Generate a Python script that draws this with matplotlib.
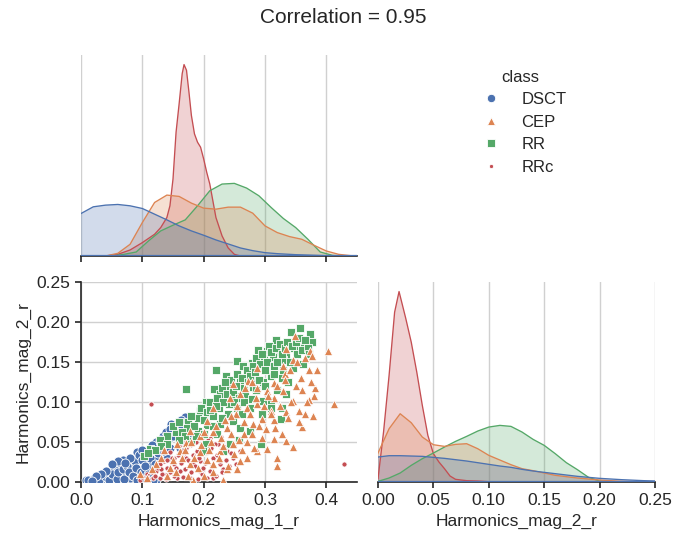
import matplotlib
matplotlib.use("Agg")
import matplotlib.pyplot as plt
from matplotlib.lines import Line2D

plt.rcParams['font.family'] = ['Liberation Sans', 'DejaVu Sans']

# ---------------- data ----------------
classes = ["DSCT", "CEP", "RR", "RRc"]
palette = ["#4C72B0", "#DD8452", "#55A868", "#C44E52"]
marker_list = ["o", "^", "s", "."]

title = "Correlation = 0.95"
xlabel1 = "Harmonics_mag_1_r"
xlabel2 = "Harmonics_mag_2_r"
legend_title = "class"

# scatter points (Harmonics_mag_1_r, Harmonics_mag_2_r)
dsct_m1 = [0.170, 0.147, 0.151, 0.133, 0.122, 0.092, 0.093, 0.107, 0.069, 0.085, 0.064, 0.055,
           0.047, 0.036, 0.028, 0.015, 0.026, 0.036, 0.047, 0.061, 0.074, 0.083, 0.102, 0.123,
           0.140, 0.161, 0.172, 0.183, 0.008, 0.042, 0.055, 0.066, 0.080, 0.091, 0.113, 0.123,
           0.134, 0.145,
           0.020, 0.030, 0.040, 0.045, 0.050, 0.058, 0.060, 0.068, 0.070, 0.075, 0.078, 0.085,
           0.088, 0.090, 0.095, 0.098, 0.100, 0.104, 0.108, 0.110, 0.112, 0.115, 0.118, 0.120,
           0.125, 0.128, 0.130, 0.135, 0.138, 0.142, 0.145, 0.150, 0.155, 0.158, 0.163, 0.165,
           0.060, 0.050, 0.040, 0.032, 0.024, 0.012, 0.018, 0.100, 0.080, 0.072, 0.118, 0.105,
           0.092]
dsct_m2 = [0.081, 0.073, 0.063, 0.057, 0.050, 0.038, 0.030, 0.025, 0.028, 0.023, 0.020, 0.015,
           0.012, 0.009, 0.006, 0.003, 0.003, 0.003, 0.003, 0.005, 0.010, 0.014, 0.016, 0.003,
           0.030, 0.043, 0.049, 0.055, 0.002, 0.005, 0.008, 0.008, 0.005, 0.009, 0.020, 0.028,
           0.039, 0.043,
           0.004, 0.002, 0.006, 0.002, 0.010, 0.004, 0.012, 0.016, 0.004, 0.020, 0.012, 0.008,
           0.026, 0.018, 0.034, 0.012, 0.028, 0.020, 0.036, 0.010, 0.030, 0.046, 0.040, 0.022,
           0.036, 0.052, 0.044, 0.048, 0.062, 0.052, 0.066, 0.058, 0.070, 0.064, 0.078, 0.068,
           0.026, 0.022, 0.014, 0.010, 0.007, 0.002, 0.001, 0.040, 0.030, 0.024, 0.003, 0.004,
           0.003]

rrc_m1 = [0.096, 0.107, 0.123, 0.129, 0.140, 0.151, 0.161, 0.172, 0.183, 0.194, 0.205, 0.189,
          0.199, 0.210, 0.216, 0.227, 0.238, 0.248, 0.167, 0.151, 0.140, 0.118, 0.178, 0.216,
          0.224, 0.194, 0.156, 0.129, 0.172, 0.199, 0.232, 0.259, 0.114, 0.429,
          0.100, 0.110, 0.115, 0.120, 0.125, 0.132, 0.135, 0.138, 0.145, 0.148, 0.152, 0.155,
          0.158, 0.163, 0.166, 0.168, 0.170, 0.175, 0.178, 0.180, 0.182, 0.186, 0.188, 0.190,
          0.192, 0.196, 0.198, 0.202, 0.204, 0.207, 0.210, 0.212, 0.214, 0.218, 0.220, 0.222,
          0.226, 0.228, 0.230, 0.234, 0.236, 0.240, 0.242, 0.245, 0.250, 0.253, 0.160, 0.145,
          0.130, 0.140, 0.185, 0.200, 0.172, 0.215]
rrc_m2 = [0.002, 0.010, 0.014, 0.005, 0.018, 0.022, 0.014, 0.030, 0.022, 0.014, 0.005, 0.039,
          0.047, 0.055, 0.030, 0.022, 0.039, 0.030, 0.035, 0.030, 0.010, 0.005, 0.005, 0.005,
          0.047, 0.026, 0.005, 0.022, 0.043, 0.018, 0.016, 0.039, 0.098, 0.023,
          0.006, 0.004, 0.012, 0.008, 0.018, 0.010, 0.026, 0.004, 0.012, 0.030, 0.008, 0.018,
          0.034, 0.024, 0.006, 0.040, 0.016, 0.028, 0.046, 0.012, 0.034, 0.020, 0.050, 0.004,
          0.030, 0.042, 0.010, 0.024, 0.036, 0.052, 0.014, 0.042, 0.020, 0.048, 0.008, 0.034,
          0.026, 0.056, 0.012, 0.044, 0.028, 0.050, 0.020, 0.036, 0.045, 0.022, 0.045, 0.038,
          0.016, 0.028, 0.058, 0.060, 0.052, 0.060]

rr_m1 = [0.357, 0.374, 0.342, 0.318, 0.289, 0.304, 0.323, 0.335, 0.348, 0.364, 0.377, 0.255,
         0.220, 0.264, 0.279, 0.298, 0.313, 0.329, 0.345, 0.362, 0.171, 0.236, 0.240, 0.259,
         0.284, 0.281, 0.297, 0.310, 0.327, 0.338, 0.268, 0.251, 0.217, 0.227, 0.204, 0.218,
         0.241, 0.255, 0.279, 0.297, 0.309, 0.326, 0.327, 0.194, 0.211, 0.190, 0.175, 0.155,
         0.173, 0.191, 0.206, 0.227, 0.248, 0.260, 0.275, 0.294, 0.221, 0.243, 0.258, 0.140,
         0.128, 0.113, 0.103, 0.180, 0.204, 0.199, 0.232,
         0.150, 0.160, 0.165, 0.180, 0.185, 0.195, 0.200, 0.205, 0.210, 0.215, 0.222, 0.225,
         0.230, 0.232, 0.238, 0.245, 0.248, 0.252, 0.255, 0.258, 0.262, 0.265, 0.270, 0.272,
         0.275, 0.280, 0.283, 0.286, 0.290, 0.292, 0.295, 0.300, 0.303, 0.306, 0.310, 0.314,
         0.318, 0.320, 0.324, 0.328, 0.332, 0.336, 0.340, 0.344, 0.350, 0.352, 0.356, 0.360,
         0.366, 0.370, 0.372, 0.240, 0.250, 0.230, 0.215, 0.200, 0.188, 0.170, 0.160, 0.140,
         0.130, 0.120, 0.110, 0.265, 0.285, 0.300, 0.315, 0.330, 0.295, 0.310, 0.335, 0.320,
         0.262, 0.275, 0.235, 0.220, 0.210]
rr_m2 = [0.193, 0.185, 0.187, 0.178, 0.165, 0.164, 0.163, 0.159, 0.167, 0.170, 0.175, 0.151,
         0.140, 0.145, 0.149, 0.155, 0.156, 0.153, 0.142, 0.147, 0.116, 0.133, 0.120, 0.125,
         0.128, 0.119, 0.125, 0.132, 0.130, 0.125, 0.109, 0.108, 0.116, 0.110, 0.100, 0.097,
         0.098, 0.093, 0.104, 0.101, 0.101, 0.079, 0.093, 0.089, 0.086, 0.080, 0.075, 0.062,
         0.068, 0.064, 0.071, 0.072, 0.076, 0.068, 0.064, 0.048, 0.060, 0.047, 0.052, 0.057,
         0.053, 0.041, 0.032, 0.051, 0.047, 0.039, 0.039,
         0.070, 0.075, 0.062, 0.082, 0.070, 0.092, 0.078, 0.088, 0.100, 0.082, 0.105, 0.092,
         0.118, 0.100, 0.110, 0.128, 0.112, 0.120, 0.135, 0.105, 0.130, 0.118, 0.140, 0.125,
         0.133, 0.145, 0.138, 0.155, 0.128, 0.148, 0.160, 0.140, 0.150, 0.170, 0.162, 0.145,
         0.168, 0.150, 0.172, 0.160, 0.168, 0.175, 0.150, 0.170, 0.175, 0.160, 0.180, 0.165,
         0.178, 0.168, 0.160, 0.085, 0.100, 0.080, 0.070, 0.060, 0.058, 0.058, 0.052, 0.047,
         0.045, 0.040, 0.036, 0.100, 0.115, 0.120, 0.135, 0.140, 0.085, 0.092, 0.110, 0.115,
         0.085, 0.092, 0.125, 0.095, 0.090]

cep_m1 = [0.402, 0.349, 0.374, 0.384, 0.413, 0.360, 0.382, 0.380, 0.371, 0.355, 0.378, 0.360,
          0.346, 0.335, 0.314, 0.319, 0.319, 0.303, 0.287, 0.270, 0.255, 0.259, 0.238, 0.216,
          0.183, 0.232, 0.314, 0.309, 0.295, 0.281, 0.265, 0.248, 0.227, 0.205, 0.194, 0.177,
          0.161, 0.156, 0.145, 0.140, 0.123, 0.115, 0.107, 0.096, 0.287, 0.270, 0.335, 0.346,
          0.330, 0.314, 0.333, 0.314, 0.303, 0.287, 0.273, 0.287, 0.330, 0.346, 0.335, 0.248,
          0.243, 0.216, 0.205, 0.238, 0.216, 0.194, 0.178, 0.172,
          0.130, 0.135, 0.150, 0.155, 0.165, 0.170, 0.175, 0.180, 0.185, 0.190, 0.195, 0.200,
          0.200, 0.208, 0.212, 0.215, 0.220, 0.225, 0.228, 0.232, 0.235, 0.240, 0.245, 0.250,
          0.252, 0.258, 0.262, 0.265, 0.270, 0.275, 0.278, 0.282, 0.285, 0.290, 0.295, 0.298,
          0.302, 0.305, 0.310, 0.316, 0.320, 0.325, 0.328, 0.332, 0.338, 0.340, 0.342, 0.350,
          0.352, 0.355, 0.358, 0.365, 0.368, 0.372, 0.375, 0.376, 0.366, 0.260, 0.268, 0.278,
          0.255, 0.245]
cep_m2 = [0.164, 0.183, 0.164, 0.140, 0.098, 0.115, 0.117, 0.108, 0.102, 0.089, 0.082, 0.069,
          0.044, 0.051, 0.054, 0.030, 0.020, 0.041, 0.039, 0.030, 0.016, 0.026, 0.016, 0.013,
          0.002, 0.002, 0.077, 0.089, 0.079, 0.072, 0.060, 0.047, 0.039, 0.028, 0.037, 0.022,
          0.039, 0.047, 0.018, 0.008, 0.022, 0.016, 0.005, 0.010, 0.097, 0.093, 0.087, 0.101,
          0.114, 0.105, 0.135, 0.124, 0.114, 0.118, 0.126, 0.143, 0.145, 0.153, 0.166, 0.122,
          0.105, 0.093, 0.076, 0.068, 0.062, 0.058, 0.064, 0.049,
          0.030, 0.040, 0.028, 0.012, 0.030, 0.040, 0.008, 0.050, 0.030, 0.018, 0.046, 0.008,
          0.062, 0.040, 0.050, 0.022, 0.070, 0.030, 0.055, 0.045, 0.078, 0.020, 0.060, 0.035,
          0.085, 0.052, 0.040, 0.075, 0.050, 0.085, 0.060, 0.042, 0.105, 0.070, 0.055, 0.095,
          0.066, 0.108, 0.085, 0.068, 0.120, 0.095, 0.060, 0.128, 0.080, 0.140, 0.100, 0.120,
          0.150, 0.075, 0.130, 0.155, 0.100, 0.140, 0.125, 0.158, 0.085, 0.110, 0.118, 0.125,
          0.095, 0.082]

# KDE curves (relative density heights)
kde1_dsct_x = [0.0, 0.02, 0.04, 0.06, 0.08, 0.10, 0.12, 0.14, 0.16, 0.18, 0.20, 0.22, 0.24,
               0.26, 0.28, 0.30, 0.32, 0.35, 0.40, 0.45]
kde1_dsct_h = [127, 147, 152, 154, 150, 142, 125, 108, 90, 75, 62, 48, 36, 24, 16, 10, 7, 4, 1, 0]

kde1_cep_x = [0.04, 0.06, 0.08, 0.10, 0.12, 0.14, 0.16, 0.18, 0.20, 0.22, 0.24, 0.26, 0.28,
              0.30, 0.32, 0.34, 0.36, 0.38, 0.40, 0.42, 0.44, 0.45]
kde1_cep_h = [0, 8, 35, 100, 160, 182, 178, 158, 143, 140, 146, 146, 128, 90, 70, 58, 50, 32,
              15, 5, 1, 0]

kde1_rr_x = [0.05, 0.07, 0.09, 0.11, 0.13, 0.15, 0.17, 0.19, 0.21, 0.23, 0.25, 0.27, 0.29,
             0.31, 0.33, 0.35, 0.37, 0.39, 0.41, 0.43]
kde1_rr_h = [0, 5, 12, 45, 75, 92, 108, 150, 195, 215, 217, 203, 180, 145, 112, 85, 50, 12, 2, 0]

kde1_rrc_x = [0.04, 0.06, 0.08, 0.10, 0.12, 0.13, 0.14, 0.145, 0.15, 0.155, 0.16, 0.165, 0.168,
              0.172, 0.176, 0.18, 0.185, 0.19, 0.195, 0.20, 0.205, 0.21, 0.215, 0.22, 0.23,
              0.24, 0.25, 0.26]
kde1_rrc_h = [0, 5, 18, 40, 65, 85, 115, 150, 230, 370, 455, 545, 572, 555, 490, 420, 365, 340,
              325, 290, 250, 215, 165, 115, 60, 24, 5, 0]

kde2_dsct_x = [0.0, 0.01, 0.02, 0.03, 0.04, 0.05, 0.06, 0.07, 0.08, 0.09, 0.10, 0.11, 0.12,
               0.13, 0.14, 0.15, 0.16, 0.17, 0.18, 0.19, 0.20, 0.22, 0.24, 0.25]
kde2_dsct_h = [75, 79, 79, 78, 77, 74, 71, 67, 63, 58, 53, 48, 44, 38, 33, 29, 25, 21, 17, 14,
               11, 7, 4, 3]

kde2_cep_x = [0.0, 0.01, 0.02, 0.03, 0.04, 0.05, 0.06, 0.07, 0.08, 0.09, 0.10, 0.11, 0.12,
              0.13, 0.14, 0.15, 0.16, 0.18, 0.20, 0.22, 0.25]
kde2_cep_h = [87, 160, 205, 178, 135, 112, 107, 113, 115, 100, 80, 66, 52, 40, 34, 27, 20, 12,
              6, 2, 0]

kde2_rr_x = [0.0, 0.01, 0.02, 0.03, 0.04, 0.05, 0.06, 0.07, 0.08, 0.09, 0.10, 0.11, 0.12, 0.13,
             0.14, 0.15, 0.16, 0.17, 0.18, 0.19, 0.20, 0.21]
kde2_rr_h = [2, 12, 27, 50, 70, 87, 105, 122, 137, 153, 165, 170, 167, 150, 128, 110, 85, 58,
             37, 14, 3, 0]

kde2_rrc_x = [0.0, 0.005, 0.01, 0.015, 0.019, 0.025, 0.03, 0.035, 0.04, 0.045, 0.05, 0.055,
              0.06, 0.065, 0.07, 0.08, 0.09, 0.10, 0.12]
kde2_rrc_h = [10, 150, 320, 510, 572, 492, 420, 330, 230, 140, 85, 60, 40, 18, 8, 4, 3, 1, 0]

x1_ticks = [0.0, 0.1, 0.2, 0.3, 0.4]
y_ticks = [0.00, 0.05, 0.10, 0.15, 0.20, 0.25]
x2_ticks = [0.00, 0.05, 0.10, 0.15, 0.20, 0.25]

# ---------------- figure ----------------
W, H = 686, 534
fig = plt.figure(figsize=(W / 100, H / 100), dpi=100)

def px_axes(x0, y0, x1, y1):
    return fig.add_axes([x0 / W, 1 - y1 / H, (x1 - x0) / W, (y1 - y0) / H])

ax_d1 = px_axes(81, 55, 357, 256)
ax_sc = px_axes(81, 282, 357, 482)
ax_d2 = px_axes(378, 282, 655, 482)

spine_col = "#262626"
grid_col = "#d0d0d0"
for ax in (ax_d1, ax_sc, ax_d2):
    for s in ("top", "right"):
        ax.spines[s].set_visible(False)
    for s in ("left", "bottom"):
        ax.spines[s].set_color(spine_col)
        ax.spines[s].set_linewidth(1.2)
    ax.tick_params(colors=spine_col, labelcolor=spine_col, length=4.5, width=1.2,
                   labelsize=12.5, direction="out")
    ax.set_axisbelow(True)

kde1 = {
    "DSCT": (kde1_dsct_x, kde1_dsct_h),
    "CEP": (kde1_cep_x, kde1_cep_h),
    "RR": (kde1_rr_x, kde1_rr_h),
    "RRc": (kde1_rrc_x, kde1_rrc_h),
}
kde2 = {
    "DSCT": (kde2_dsct_x, kde2_dsct_h),
    "CEP": (kde2_cep_x, kde2_cep_h),
    "RR": (kde2_rr_x, kde2_rr_h),
    "RRc": (kde2_rrc_x, kde2_rrc_h),
}

def draw_kde(ax, curves, xlim, xt):
    top = 0
    for cls, col in reversed(list(zip(classes, palette))):
        xs, hs = curves[cls]
        ax.fill_between(xs, 0, hs, facecolor=col, alpha=0.25, linewidth=0)
        ax.plot(xs, hs, color=col, lw=0.95)
        top = max(top, max(hs))
    ax.axhline(0, color=palette[0], lw=1.6, zorder=5)
    ax.set_xlim(*xlim)
    ax.set_ylim(0, top * 1.05)
    ax.set_xticks(xt)
    ax.grid(axis="x", color=grid_col, lw=1)
    ax.spines["left"].set_visible(False)
    ax.set_yticks([])

draw_kde(ax_d1, kde1, (0, 0.45), x1_ticks)
ax_d1.tick_params(labelbottom=False)

draw_kde(ax_d2, kde2, (0, 0.25), x2_ticks)
ax_d2.set_xticklabels([f"{t:.2f}" for t in x2_ticks])
ax_d2.set_xlabel(xlabel2, fontsize=12.5, color=spine_col)

# scatter
pts = {
    "DSCT": (dsct_m1, dsct_m2),
    "CEP": (cep_m1, cep_m2),
    "RR": (rr_m1, rr_m2),
    "RRc": (rrc_m1, rrc_m2),
}
sizes = {"DSCT": 42, "CEP": 36, "RR": 40, "RRc": 55}
order = ["DSCT", "RRc", "RR", "CEP"]
for cls in order:
    i = classes.index(cls)
    x, y = pts[cls]
    ax_sc.scatter(x, y, s=sizes[cls], marker=marker_list[i], color=palette[i],
                  edgecolor="white", linewidth=0.6, zorder=3)
ax_sc.set_xlim(0, 0.45)
ax_sc.set_ylim(0, 0.25)
ax_sc.set_xticks(x1_ticks)
ax_sc.set_xticklabels([f"{t:.1f}" for t in x1_ticks])
ax_sc.set_yticks(y_ticks)
ax_sc.set_yticklabels([f"{t:.2f}" for t in y_ticks])
ax_sc.grid(True, color=grid_col, lw=1)
ax_sc.set_xlabel(xlabel1, fontsize=12.5, color=spine_col)
ax_sc.set_ylabel(xlabel2, fontsize=12.5, color=spine_col)

# legend
handles = []
msizes = {"DSCT": 6, "CEP": 5.5, "RR": 6, "RRc": 6}
for cls, col, mk in zip(classes, palette, marker_list):
    handles.append(Line2D([], [], linestyle="", marker=mk, color=col, markersize=msizes[cls],
                          markeredgecolor="white", markeredgewidth=0.6))
leg = fig.legend(handles, classes, title=legend_title, loc="upper left",
                 bbox_to_anchor=(463 / W, 1 - 58 / H), frameon=False, fontsize=12,
                 title_fontsize=12, labelspacing=0.45, handletextpad=0.8,
                 borderpad=0.2)
for t in leg.get_texts():
    t.set_color(spine_col)
leg.get_title().set_color(spine_col)

fig.suptitle(title, fontsize=15, x=0.5, y=1 - 8 / H, va="top", color=spine_col)

fig.savefig("out.png", dpi=100)
